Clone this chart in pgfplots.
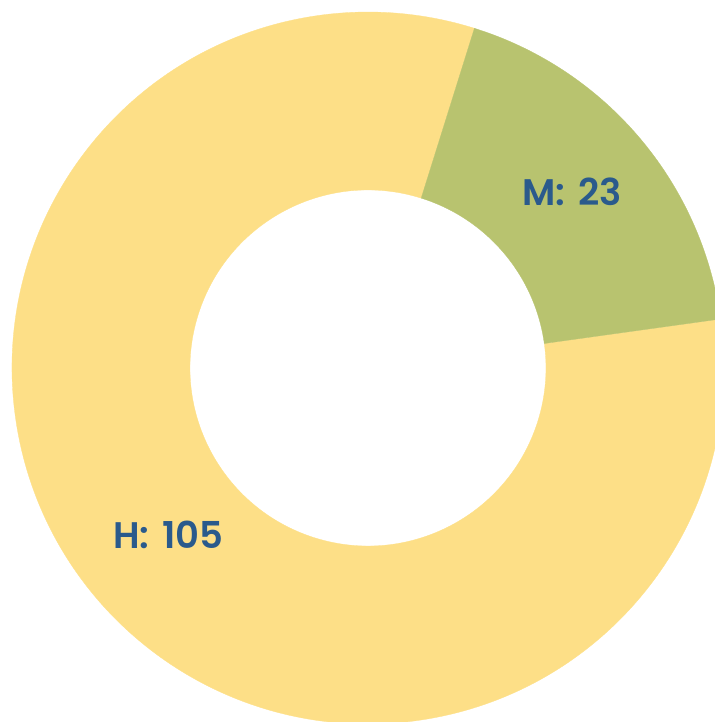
\documentclass[border=0pt]{standalone}
\usepackage{pgfplots}
\pgfplotsset{compat=1.18}
\usepackage{pgfplotstable}
\usepackage{fontspec}
\setmainfont{Poppins}
\newfontfamily\lblfont{Poppins SemiBold}
\definecolor{hyel}{HTML}{FDDF87}
\definecolor{mgrn}{HTML}{B8C36F}
\definecolor{lbl}{HTML}{2A5A8C}
\pgfplotstableread{
label value
M 23
H 105
}\slices
\begin{document}%
\pgfplotstablegetelem{0}{value}\of\slices\let\vM\pgfplotsretval%
\pgfplotstablegetelem{1}{value}\of\slices\let\vH\pgfplotsretval%
\pgfmathsetmacro\tot{\vM+\vH}%
\pgfmathsetmacro\aStart{72.6}%
\pgfmathsetmacro\aMend{\aStart-360*(\vM/\tot)}%
\pgfmathsetmacro\aHend{\aMend-360*(\vH/\tot)}%
\pgfmathsetmacro\aMmid{(\aStart+\aMend)/2}%
\pgfmathsetmacro\aHmid{(\aMend+\aHend)/2}%
\pgfmathsetmacro\xA{cos(\aStart)}\pgfmathsetmacro\yA{sin(\aStart)}%
\pgfmathsetmacro\xB{0.5*cos(\aMend)}\pgfmathsetmacro\yB{0.5*sin(\aMend)}%
\pgfmathsetmacro\xC{cos(\aMend)}\pgfmathsetmacro\yC{sin(\aMend)}%
\pgfmathsetmacro\xD{0.5*cos(\aHend)}\pgfmathsetmacro\yD{0.5*sin(\aHend)}%
\pgfmathsetmacro\xM{0.75*cos(\aMmid)}\pgfmathsetmacro\yM{0.75*sin(\aMmid)}%
\pgfmathsetmacro\xH{0.75*cos(\aHmid)}\pgfmathsetmacro\yH{0.75*sin(\aHmid)}%
\begin{tikzpicture}
\begin{axis}[
  hide axis, scale only axis,
  x=356pt, y=356pt,
  xmin=-1.0337, xmax=0.9747, ymin=-0.9944, ymax=1.0337,
  clip=true,
]
\addplot[draw=none, mark=none] coordinates {(0,0)};
% H slice
\fill[hyel, draw=hyel, line width=0.3pt] (axis cs:\xC,\yC) arc[start angle=\aMend, end angle=\aHend, radius=356pt]
   -- (axis cs:\xD,\yD) arc[start angle=\aHend, end angle=\aMend, radius=178pt] -- cycle;
% M slice
\fill[mgrn, draw=mgrn, line width=0.3pt] (axis cs:\xA,\yA) arc[start angle=\aStart, end angle=\aMend, radius=356pt]
   -- (axis cs:\xB,\yB) arc[start angle=\aMend, end angle=\aStart, radius=178pt] -- cycle;
\node[text=lbl, font=\lblfont\fontsize{37}{40}\selectfont, yshift=4pt] at (axis cs:\xM,\yM) {M:\hspace{0.35em}\vM};
\node[text=lbl, font=\lblfont\fontsize{37}{40}\selectfont, yshift=6pt, xshift=4pt] at (axis cs:\xH,\yH) {H:\hspace{0.35em}\vH};
\end{axis}
\pgfresetboundingbox
\useasboundingbox (current axis.south west) rectangle (current axis.north east);
\end{tikzpicture}%
\end{document}
